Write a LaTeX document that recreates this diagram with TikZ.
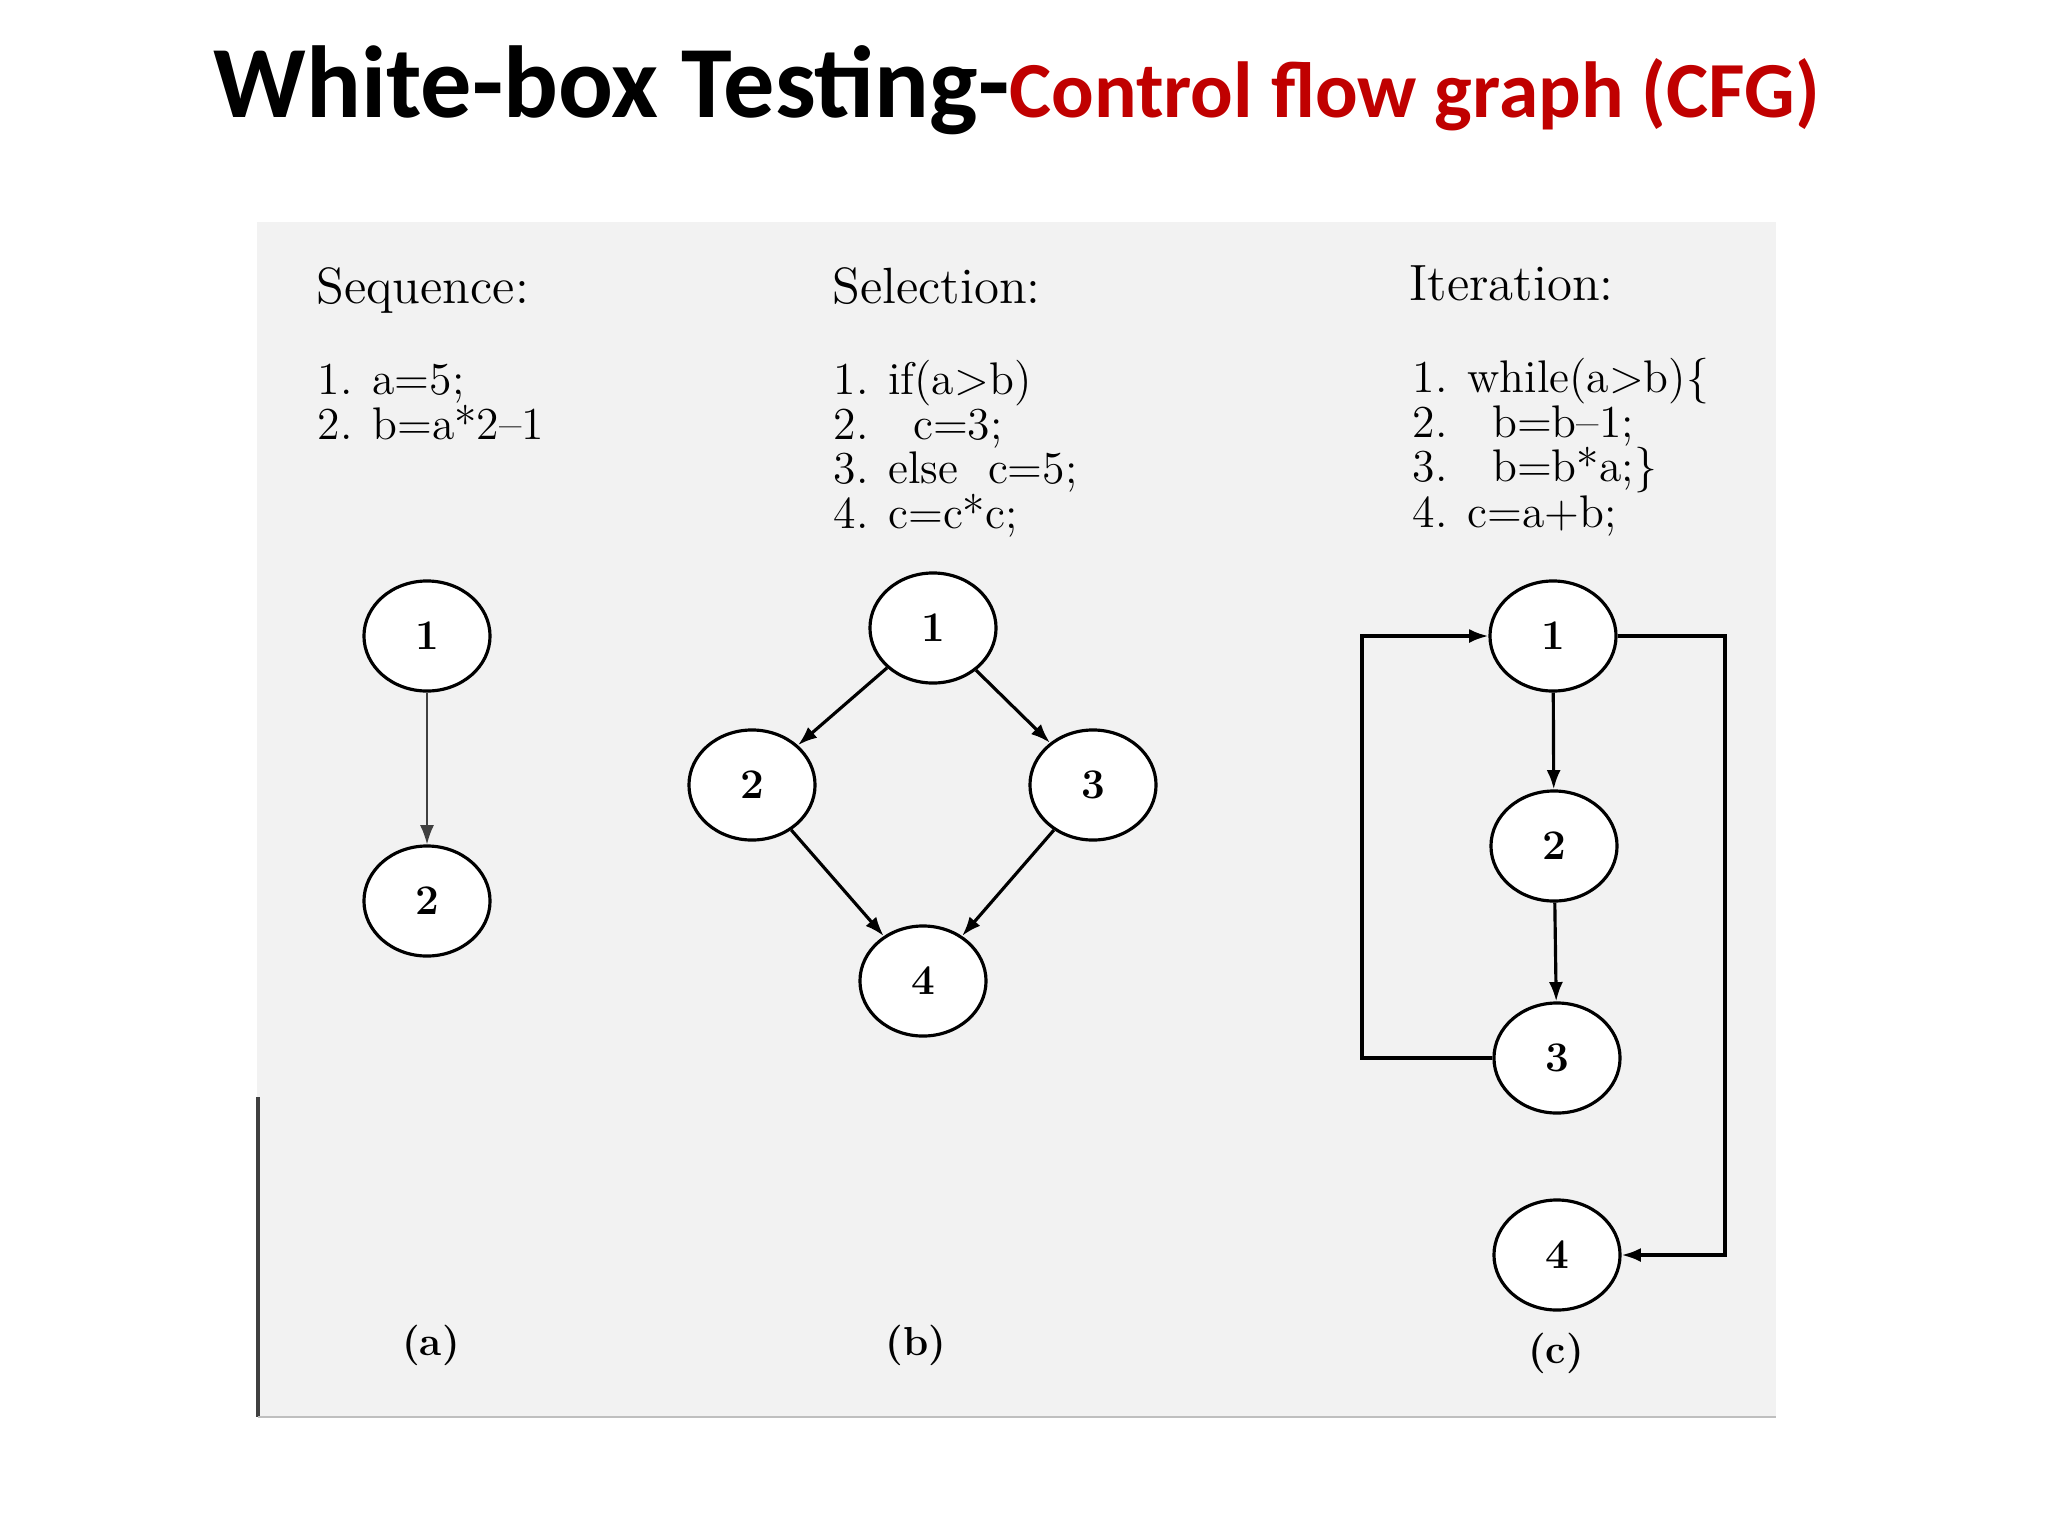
\documentclass[tikz,border=0pt]{standalone}
\usepackage{fontspec}
\usetikzlibrary{shapes.geometric, arrows.meta}
\newfontfamily\titlefont{Carlito}
\definecolor{titlered}{HTML}{C00000}

\begin{document}
\begin{tikzpicture}[x=0.01cm, y=-0.01cm, >={Latex[length=5.5pt, width=4pt]},
  vertex/.style = {ellipse, draw, line width=0.9pt, fill=white, inner sep=0pt,
                   minimum width=1.26cm, minimum height=1.1cm,
                   font=\fontsize{12}{12}\selectfont\bfseries},
  heading/.style = {anchor=base west, inner sep=0pt, font=\fontsize{14.5}{15}\selectfont},
  code/.style = {anchor=base west, inner sep=0pt, font=\fontsize{13}{13}\selectfont},
  caption/.style = {inner sep=0pt, font=\fontsize{11.5}{12}\selectfont\bfseries},
  flow/.style = {->, line width=0.9pt},
  thinflow/.style = {->, line width=0.5pt, black!75},
  ]
  \useasboundingbox (0,0) rectangle (2048,1536);

  % scanned page
  \fill[black!5] (257,222) rectangle (1776,1417);
  \draw[black!75, line width=1.2pt] (258,1097) -- (258,1417);
  \draw[black!25] (258,1417) -- (1776,1417);

  \node[anchor=base west, inner sep=0pt] (title) at (213,117)
    {\titlefont\bfseries\fontsize{29.1}{30}\selectfont White-box Testing-\textcolor{titlered}{\fontsize{22.6}{24}\selectfont Control flow graph (CFG)}};

  % code columns
  \node[heading] (seq) at (316,303) {Sequence:};
  \node[heading] (sel) at (832,303) {Selection:};
  \node[heading] (itr) at (1409,300) {Iteration:};
  \foreach \y/\txt [count=\i] in {394/{1. a=5;}, 439/{2. b=a*2--1}}
    \node[code] (seqline\i) at (317,\y) {\txt};
  \foreach \y/\txt [count=\i] in {394/{1. if(a>b)}, 439/{2.\ \ \ c=3;},
                                  483/{3. else\ \ c=5;}, 528/{4. c=c*c;}}
    \node[code] (selline\i) at (833,\y) {\txt};
  \foreach \y/\txt [count=\i] in {392/{1. while(a>b)\{}, 437/{2.\ \ \ b=b--1;},
                                  481/{3.\ \ \ b=b*a;\}}, 527/{4. c=a+b;}}
    \node[code] (itrline\i) at (1412,\y) {\txt};

  % (a) sequence
  \node[vertex] (a1) at (427,636) {1};
  \node[vertex] (a2) at (427,901) {2};
  \draw[thinflow] (a1) -- (a2);

  % (b) selection
  \node[vertex] (b1) at (933,628) {1};
  \node[vertex] (b2) at (752,785) {2};
  \node[vertex] (b3) at (1093,785) {3};
  \node[vertex] (b4) at (923,981) {4};
  \draw[flow] (b1) -- (b2);
  \draw[flow] (b1) -- (b3);
  \draw[flow] (b2) -- (b4);
  \draw[flow] (b3) -- (b4);

  % (c) iteration
  \node[vertex] (c1) at (1553,636) {1};
  \node[vertex] (c2) at (1554,846) {2};
  \node[vertex] (c3) at (1557,1058) {3};
  \node[vertex] (c4) at (1557,1255) {4};
  \coordinate (lft) at (1362,0);
  \coordinate (rgt) at (1725,0);
  \draw[flow] (c1) -- (c2);
  \draw[flow] (c2) -- (c3);
  \draw[flow] (c3.west) -- (c3.west -| lft) -- (c1.west -| lft) -- (c1.west);
  \draw[flow] (c1.east) -- (c1.east -| rgt) -- (c4.east -| rgt) -- (c4.east);

  \node[caption] (capa) at (431,1345) {(a)};
  \node[caption] (capb) at (916,1345) {(b)};
  \node[caption] (capc) at (1556,1353) {(c)};
\end{tikzpicture}
\end{document}
